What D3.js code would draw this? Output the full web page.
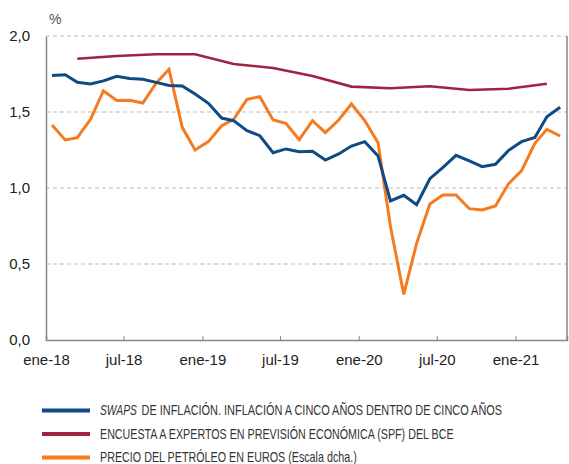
<!DOCTYPE html>
<html>
<head>
<meta charset="utf-8">
<script src="https://cdn.jsdelivr.net/npm/d3@7"></script>
<style>
  body { margin: 0; background: #fff; }
  svg { display: block; font-family: "Liberation Sans", Arial, sans-serif; }
</style>
</head>
<body>
<div id="vis"></div>
<script>
// monthly series, jan-18 .. apr-21
const swaps = [
  1.74, 1.745, 1.695, 1.685, 1.705, 1.735, 1.72, 1.715, 1.695, 1.675,
  1.671, 1.618, 1.557, 1.46, 1.443, 1.377, 1.344, 1.232, 1.257, 1.239,
  1.241, 1.184, 1.224, 1.276, 1.305, 1.211, 0.915, 0.952, 0.89, 1.061,
  1.134, 1.215, 1.178, 1.14, 1.156, 1.246, 1.305, 1.333, 1.469, 1.531
];
const oil = [
  1.414, 1.316, 1.331, 1.452, 1.64, 1.576, 1.577, 1.559, 1.689, 1.781,
  1.399, 1.25, 1.305, 1.41, 1.452, 1.583, 1.601, 1.447, 1.425, 1.318,
  1.443, 1.364, 1.447, 1.553, 1.443, 1.298, 0.746, 0.30, 0.636, 0.895,
  0.954, 0.954, 0.864, 0.855, 0.882, 1.026, 1.114, 1.294, 1.386, 1.342
];
// quarterly survey, mar-18 .. mar-21
const spf = [1.85, 1.868, 1.88, 1.88, 1.816, 1.79, 1.737, 1.667, 1.656, 1.669, 1.645, 1.653, 1.686];

const yTicks = [0, 0.5, 1, 1.5, 2];
const monthNames = ["ene", "feb", "mar", "abr", "may", "jun", "jul", "ago", "sep", "oct", "nov", "dic"];

const legendItems = [
  { color: "#0d4a86", lead: "SWAPS", leadLen: 37, text: "DE INFLACIÓN. INFLACIÓN A CINCO AÑOS DENTRO DE CINCO AÑOS", len: 361 },
  { color: "#9e2440", lead: "", leadLen: 0, text: "ENCUESTA A EXPERTOS EN PREVISIÓN ECONÓMICA (SPF) DEL BCE", len: 354 },
  { color: "#f57b20", lead: "", leadLen: 0, text: "PRECIO DEL PETRÓLEO EN EUROS (Escala dcha.)", len: 257 }
];

////////////////////////////////////////
////////////// Setup ///////////////////
////////////////////////////////////////

const W = 569, H = 464;
const margin = { top: 36, right: 2, bottom: 124, left: 46 };
const width = W - margin.left - margin.right;
const height = H - margin.top - margin.bottom;

const svg = d3.select("#vis").append("svg")
  .attr("width", W).attr("height", H);

const g = svg.append("g")
  .attr("transform", `translate(${margin.left},${margin.top})`);

const monthly = (arr) => arr.map((v, i) => ({ date: new Date(2018, i, 15), value: v }));
const quarterly = (arr) => arr.map((v, i) => ({ date: new Date(2018, 2 + 3 * i, 15), value: v }));

////////////////////////////////////////
////////////// Scales //////////////////
////////////////////////////////////////

const x = d3.scaleTime()
  .domain([new Date(2018, 0, 1), new Date(2021, 4, 1)])
  .range([0, width]);

const y = d3.scaleLinear().domain([0, 2]).range([height, 0]);

////////////////////////////////////////
/////////////// Grid ///////////////////
////////////////////////////////////////

g.selectAll(".grid")
  .data(yTicks.filter((d) => d > 0))
  .join("line")
  .attr("x1", 0).attr("x2", width)
  .attr("y1", (d) => y(d)).attr("y2", (d) => y(d))
  .attr("stroke", "#bdbdbd")
  .attr("stroke-width", 1.2)
  .attr("stroke-dasharray", "4,3");

// left axis
const yAxis = g.append("g").call(
  d3.axisLeft(y).tickValues(yTicks).tickSize(0).tickPadding(16)
    .tickFormat((d) => d3.format(".1f")(d).replace(".", ","))
);
yAxis.select(".domain").attr("stroke", "#888").attr("stroke-width", 1.5);
yAxis.selectAll(".tick text")
  .attr("font-size", 15).attr("fill", "#222")
  .attr("font-family", "Liberation Sans, Arial, sans-serif");

// right frame line
g.append("line")
  .attr("x1", width).attr("x2", width)
  .attr("y1", 0).attr("y2", height)
  .attr("stroke", "#888").attr("stroke-width", 1.5);

// bottom axis
const xAxis = g.append("g")
  .attr("transform", `translate(0,${height})`)
  .call(
    d3.axisBottom(x).ticks(d3.timeMonth.every(6)).tickSize(-4).tickPadding(14)
      .tickFormat((d) => monthNames[d.getMonth()] + "-" + String(d.getFullYear()).slice(2))
  );
xAxis.select(".domain").attr("stroke", "#888").attr("stroke-width", 1.5);
xAxis.selectAll(".tick line").attr("stroke", "#888");
xAxis.selectAll(".tick text")
  .attr("font-size", 15).attr("fill", "#222")
  .attr("font-family", "Liberation Sans, Arial, sans-serif");

g.append("text")
  .attr("x", 3).attr("y", -12)
  .attr("font-size", 14).attr("fill", "#555")
  .text("%");

////////////////////////////////////////
/////////////// Lines //////////////////
////////////////////////////////////////

const line = d3.line().x((d) => x(d.date)).y((d) => y(d.value));

const series = [
  { data: quarterly(spf), color: legendItems[1].color, w: 2.6 },
  { data: monthly(oil), color: legendItems[2].color, w: 3 },
  { data: monthly(swaps), color: legendItems[0].color, w: 3 }
];

g.selectAll(".series")
  .data(series)
  .join("path")
  .attr("d", (d) => line(d.data))
  .attr("fill", "none")
  .attr("stroke", (d) => d.color)
  .attr("stroke-width", (d) => d.w)
  .attr("stroke-linejoin", "miter");

////////////////////////////////////////
/////////////// Legend /////////////////
////////////////////////////////////////

// condensed look: squeeze each label horizontally to the reference width
function narrowText(parent, tx, ty, str, len, italic) {
  const t = parent.append("text")
    .attr("font-size", 14).attr("fill", "#333")
    .attr("font-style", italic ? "italic" : null)
    .text(str);
  const sx = len / t.node().getComputedTextLength();
  t.attr("transform", `translate(${tx},${ty}) scale(${sx},1)`);
}

const legend = svg.append("g");
legendItems.forEach((d, i) => {
  const yy = 410.5 + i * 23.5;
  legend.append("line")
    .attr("x1", 42).attr("x2", 90)
    .attr("y1", yy).attr("y2", yy)
    .attr("stroke", d.color).attr("stroke-width", 4);
  let tx = 100;
  if (d.lead) {
    narrowText(legend, tx, yy + 4.5, d.lead, d.leadLen, true);
    tx += d.leadLen + 4.5;
  }
  narrowText(legend, tx, yy + 4.5, d.text, d.len, false);
});
</script>
</body>
</html>
